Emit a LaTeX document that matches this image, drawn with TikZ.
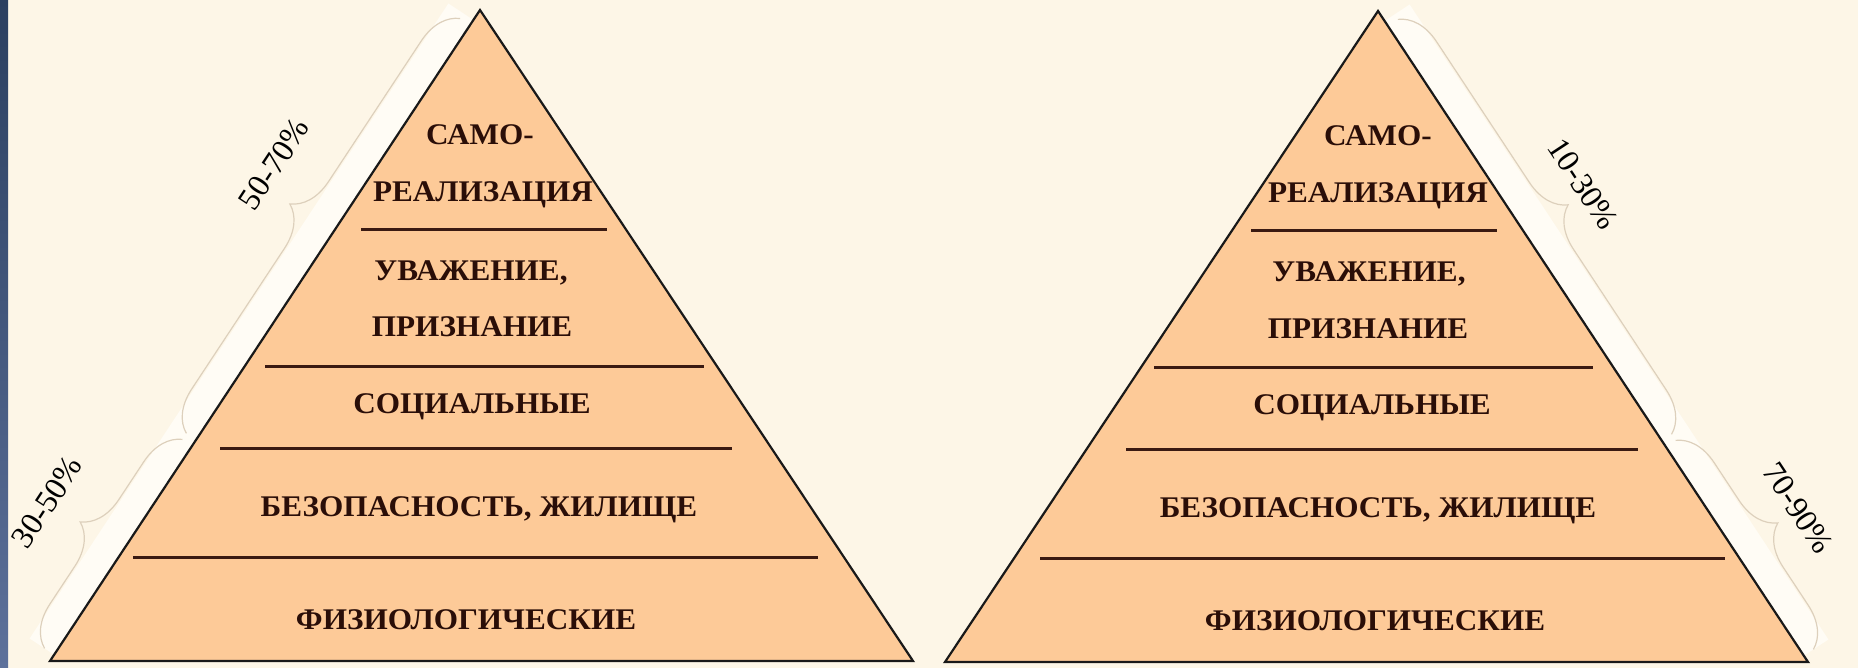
\documentclass[tikz,border=0pt]{standalone}
\usepackage{fontspec}
\setmainfont{Liberation Serif}
\usetikzlibrary{decorations.pathreplacing}
\definecolor{bg}{HTML}{FDF6E7}
\definecolor{peach}{HTML}{FDCA98}
\definecolor{txt}{HTML}{2A0E08}
\definecolor{lvl}{HTML}{3A1A12}
\definecolor{bracecol}{HTML}{DDD0BC}
\definecolor{bandcol}{HTML}{FFFCF5}
\definecolor{stripA}{HTML}{2B3F60}
\definecolor{stripB}{HTML}{5D719B}
\newcommand{\lvtext}[1]{\scalebox{1.04}[1]{\bfseries #1}}
\begin{document}
\begin{tikzpicture}[x=1pt,y=-1pt,
  lbl/.style={font=\fontsize{30}{30}\selectfont, text=txt, inner sep=0pt, anchor=base},
  pct/.style={font=\fontsize{32}{32}\selectfont, text=black, inner sep=0pt},
  level/.style={draw=lvl, line width=3pt},
  pyr/.style={fill=peach, draw=black!90, line width=2.2pt, line join=miter},
  brc/.style={draw=bracecol, line width=1.2pt, decorate, decoration={brace, amplitude=40pt}},
  band/.style={fill=bandcol}]
\useasboundingbox (0,0) rectangle (1858,668);
\fill[bg] (0,0) rectangle (1858,668);
\shade[top color=stripA, bottom color=stripB] (0,0) rectangle (8,668);
% bands
\fill[band] (473.4,20) -- (54.6,655) -- (29.6,638.5) -- (448.4,3.5) -- cycle;
\fill[band] (1384.6,21) -- (1803.4,656) -- (1828.4,639.5) -- (1409.6,4.5) -- cycle;
% braces
\draw[brc] (186.4,433.4) -- (460.1,18.4);
\draw[brc] (44.6,648.4) -- (182.5,439.4);
\draw[brc] (1397.9,19.4) -- (1671.6,434.4);
\draw[brc] (1675.5,440.4) -- (1813.4,649.4);
% left pyramid
\draw[pyr] (480,10) -- (50,661) -- (913,661) -- cycle;
\draw[level] (361,230) -- (607,230);
\draw[level] (265,366) -- (704,366);
\draw[level] (220,448) -- (732,448);
\draw[level] (133,557) -- (818,557);
\node[lbl] (l1a) at (480,145) {\lvtext{САМО-}};
\node[lbl] (l1b) at (483,202) {\lvtext{РЕАЛИЗАЦИЯ}};
\node[lbl] (l2a) at (471,281) {\lvtext{УВАЖЕНИЕ,}};
\node[lbl] (l2b) at (472,337) {\lvtext{ПРИЗНАНИЕ}};
\node[lbl] (l3) at (472,413) {\lvtext{СОЦИАЛЬНЫЕ}};
\node[lbl] (l4) at (479,516) {\lvtext{БЕЗОПАСНОСТЬ, ЖИЛИЩЕ}};
\node[lbl] (l5) at (466,629) {\lvtext{ФИЗИОЛОГИЧЕСКИЕ}};
% right pyramid
\draw[pyr] (1378,11) -- (945,662) -- (1808,662) -- cycle;
\draw[level] (1251,231) -- (1497,231);
\draw[level] (1154,367) -- (1593,367);
\draw[level] (1126,449) -- (1638,449);
\draw[level] (1040,558) -- (1725,558);
\node[lbl] (r1a) at (1378,146) {\lvtext{САМО-}};
\node[lbl] (r1b) at (1378,203) {\lvtext{РЕАЛИЗАЦИЯ}};
\node[lbl] (r2a) at (1369,282) {\lvtext{УВАЖЕНИЕ,}};
\node[lbl] (r2b) at (1368,338) {\lvtext{ПРИЗНАНИЕ}};
\node[lbl] (r3) at (1372,414) {\lvtext{СОЦИАЛЬНЫЕ}};
\node[lbl] (r4) at (1378,517) {\lvtext{БЕЗОПАСНОСТЬ, ЖИЛИЩЕ}};
\node[lbl] (r5) at (1375,630) {\lvtext{ФИЗИОЛОГИЧЕСКИЕ}};
% percentages
\node[pct, rotate=56.6] (p1) at (274,164) {50-70\%};
\node[pct, rotate=56.6] (p2) at (47,502) {30-50\%};
\node[pct, rotate=-56.6] (p3) at (1583,184) {10-30\%};
\node[pct, rotate=-56.6] (p4) at (1798,508) {70-90\%};
\end{tikzpicture}
\end{document}
